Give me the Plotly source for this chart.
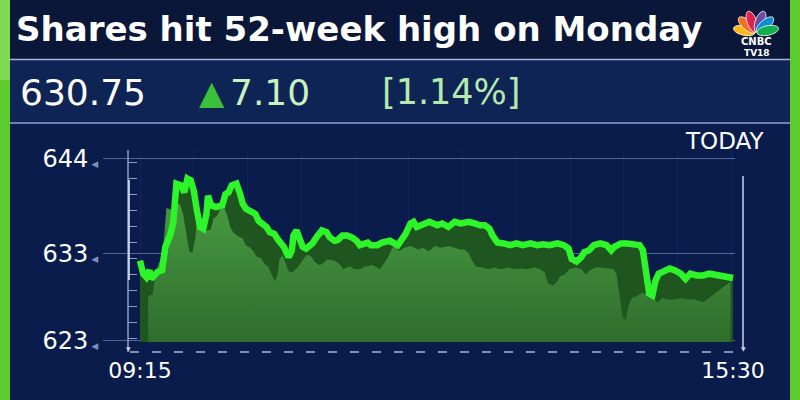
import math
import plotly.graph_objects as go

# ---------------- data ----------------
minutes = [0, 2, 4, 6, 7, 11, 14, 16, 19, 21, 23, 26, 28, 30, 32, 34, 36, 38, 40, 42,
           43, 45, 48, 52, 54, 56, 58, 61, 63, 65, 67, 70, 73, 75, 78, 80, 82, 85, 87, 90,
           91, 94, 96, 97, 99, 101, 103, 105, 109, 112, 115, 118, 120, 123, 125, 128, 131, 134, 137, 139,
           142, 144, 146, 150, 153, 158, 163, 168, 171, 173, 175, 179, 183, 188, 191, 195, 199, 203, 208, 212,
           215, 218, 221, 223, 226, 230, 234, 238, 242, 247, 251, 255, 259, 264, 268, 271, 273, 276, 279, 281,
           284, 287, 291, 295, 298, 300, 304, 308, 312, 316, 318, 320, 322, 324, 326, 328, 331, 335, 338, 342,
           345, 348, 352, 356, 360, 365, 369, 375]
prices = [632.2, 630.7, 630.3, 631.1, 630.1, 630.9, 631.1, 633.8, 635.1, 636.6, 641.1, 640.9, 640.1, 641.7, 641.5, 640.3, 638.0, 636.1, 635.9, 637.6,
          639.7, 638.6, 638.4, 638.6, 639.9, 640.1, 640.9, 641.1, 640.1, 638.8, 638.2, 637.8, 637.6, 636.8, 636.5, 636.1, 635.5, 635.3, 634.7, 634.2,
          633.8, 632.6, 633.4, 635.1, 635.7, 634.7, 633.8, 633.6, 634.2, 635.0, 635.7, 635.5, 634.9, 634.5, 634.6, 635.1, 635.1, 634.9, 634.5, 634.0,
          634.3, 634.3, 634.0, 634.0, 634.3, 634.5, 634.0, 635.3, 636.5, 636.7, 636.1, 636.5, 636.7, 636.3, 636.5, 636.1, 636.7, 636.5, 636.7, 636.5,
          636.3, 636.3, 635.9, 635.1, 634.3, 634.2, 634.0, 634.2, 634.0, 634.2, 634.0, 634.1, 634.0, 634.2, 634.0, 633.6, 632.4, 632.1, 632.6, 633.2,
          633.4, 634.0, 634.2, 634.0, 633.4, 633.8, 634.2, 634.2, 634.1, 634.0, 633.4, 631.1, 628.4, 628.2, 629.9, 630.7, 630.9, 631.3, 631.1, 630.7,
          630.1, 630.7, 630.5, 630.5, 630.7, 630.5, 630.5, 630.2]

y_ticks = [623, 633, 644]
x_ticks = [0, 375]
x_tick_labels = ["09:15", "15:30"]

title_text = "Shares hit 52-week high on Monday"
last_price = "630.75"
change_abs = "7.10"
change_pct = "[1.14%]"

# ---------------- layout geometry / style ----------------
W, H = 800, 400
L, R, T, B = 128, 65, 150, 58
PW, PH = W - L - R, H - T - B

def px(x):
    return (x - L) / PW

def py(y):
    return (H - B - y) / PH

BG = "#0a1c4c"
DEPTH = 2.8          # vertical depth of 3-D ribbon (price units)

# front face of the 3-D ribbon (derived from the data: shifted down/left)
fx, fy = [], []
for t, v in zip(minutes, prices):
    xf = t - (5.5 + 0.035 * t)
    if xf >= 3:
        fx.append(xf)
        fy.append(v - DEPTH)
fx.append(minutes[-1] - 1.5)
fy.append(prices[-1] - 0.4)

fig = go.Figure()
# dark top surface of the ribbon
fig.add_trace(go.Scatter(x=minutes, y=prices, mode="lines", line=dict(width=0, color="#1f551f"),
                         fill="tozeroy", fillcolor="#1f551f", hoverinfo="skip", showlegend=False))
# front face
fig.add_trace(go.Scatter(x=fx, y=fy, mode="lines", line=dict(width=0, color="#3c8a38"),
                         fill="tozeroy",
                         fillgradient=dict(type="vertical", start=623, stop=638,
                                           colorscale=[[0, "#2f6d2d"], [1, "#46983f"]]),
                         hoverinfo="skip", showlegend=False))
# bright edge line
fig.add_trace(go.Scatter(x=minutes, y=prices, mode="lines", line=dict(width=6.5, color="#2ef52a"),
                         hoverinfo="skip", showlegend=False))

shapes = []
# title band, price band
shapes.append(dict(type="rect", xref="paper", yref="paper", x0=px(0), x1=px(800), y0=py(0), y1=py(59),
                   fillcolor="#0b1739", line_width=0, layer="below"))
shapes.append(dict(type="rect", xref="paper", yref="paper", x0=px(0), x1=px(800), y0=py(60), y1=py(123),
                   fillcolor="#0e2455", line_width=0, layer="below"))
shapes.append(dict(type="line", xref="paper", yref="paper", x0=px(10), x1=px(790), y0=py(59.5), y1=py(59.5),
                   line=dict(color="#a3b4d8", width=1.5), layer="below"))
shapes.append(dict(type="line", xref="paper", yref="paper", x0=px(10), x1=px(790), y0=py(123), y1=py(123),
                   line=dict(color="#8fa2cc", width=1.5), layer="below"))
# green side bars
shapes.append(dict(type="rect", xref="paper", yref="paper", x0=px(0), x1=px(10), y0=py(0), y1=py(400),
                   fillcolor="#5ccb2c", line_width=0, layer="above"))
shapes.append(dict(type="rect", xref="paper", yref="paper", x0=px(0), x1=px(10), y0=py(0), y1=py(80),
                   fillcolor="#7fdc52", line_width=0, layer="above"))
shapes.append(dict(type="rect", xref="paper", yref="paper", x0=px(790), x1=px(800), y0=py(0), y1=py(400),
                   fillcolor="#5ccb2c", line_width=0, layer="above"))
# axis decorations
shapes.append(dict(type="line", xref="paper", yref="paper", x0=px(128), x1=px(128), y0=py(150), y1=py(352),
                   line=dict(color="#8f9dc2", width=1.5), layer="above"))
shapes.append(dict(type="line", xref="paper", yref="paper", x0=px(129), x1=px(129), y0=py(180), y1=py(280),
                   line=dict(color="#e6ecff", width=1.5), layer="above"))
shapes.append(dict(type="line", xref="paper", yref="paper", x0=px(743), x1=px(743), y0=py(176), y1=py(349),
                   line=dict(color="#c9d2ea", width=1.5), layer="above"))
shapes.append(dict(type="line", xref="paper", yref="paper", x0=px(130), x1=px(743), y0=py(352), y1=py(352),
                   line=dict(color="#7f8fb6", width=2, dash="9px,13px"), layer="above"))

# CNBC peacock
feather_angles = [168, 138, 110, 70, 42, 12]
feather_colors = ["#fdb913", "#f37021", "#e0234e", "#6c4ca1", "#0b8fd6", "#10b04b"]
cx0, cy0 = 756, 33
for ang, col in zip(feather_angles, feather_colors):
    a = math.radians(ang)
    ccx = cx0 + 12 * math.cos(a)
    ccy = cy0 - 12 * math.sin(a)
    pts = []
    for k in range(24):
        th = 2 * math.pi * k / 24
        lx, ly = 11 * math.cos(th), 4.8 * math.sin(th)
        X = ccx + lx * math.cos(a) - ly * math.sin(a)
        Y = ccy - (lx * math.sin(a) + ly * math.cos(a))
        pts.append(f"{px(X):.5f},{py(Y):.5f}")
    shapes.append(dict(type="path", xref="paper", yref="paper", path="M" + " L".join(pts) + " Z",
                       fillcolor=col, line=dict(color="#ffffff", width=0.8), layer="above"))

annotations = []
def txt(s, x, y, size, color="#ffffff", weight="normal", family="DejaVu Sans", xanchor="left"):
    annotations.append(dict(text=s, xref="paper", yref="paper", x=px(x), y=py(y), showarrow=False,
                            xanchor=xanchor, yanchor="middle",
                            font=dict(size=size, color=color, family=family, weight=weight)))

txt(title_text, 14, 29, 34, weight="bold")
txt(last_price, 18, 92, 36)
txt("▲", 197, 92, 33, color="#3cbf3a")
txt(change_abs, 228, 92, 36, color="#c8f3c0")
txt(change_pct, 380, 92, 35, color="#b5eaad")
txt("TODAY", 724, 141, 23, xanchor="center")
txt("CNBC", 756, 41.5, 10, weight="bold", xanchor="center")
txt("TV18", 757, 52.5, 9, weight="bold", xanchor="center")
txt("▼", 128, 348, 6, color="#c9d2ea", xanchor="center")
txt("▼", 743, 348, 6, color="#c9d2ea", xanchor="center")

y_ticktext = [f"{v}<span style='font-size:9px;color:#7e8fb8'> ◀</span>" for v in y_ticks]

fig.update_layout(
    width=W, height=H,
    margin=dict(l=L, r=R, t=T, b=B, pad=0),
    paper_bgcolor=BG, plot_bgcolor=BG,
    showlegend=False,
    shapes=shapes, annotations=annotations,
    xaxis=dict(range=[-7.59, 376.26], tickvals=x_ticks, ticktext=x_tick_labels,
               showgrid=False, zeroline=False, showline=False, ticks="",
               ticklabelstandoff=13,
               tickfont=dict(family="DejaVu Sans", size=22, color="#ffffff"),
               minor=dict(dtick=34, tick0=0, showgrid=True, gridcolor="#10265c", gridwidth=1)),
    yaxis=dict(range=[622.8, 645.0], tickvals=y_ticks, ticktext=y_ticktext,
               showgrid=True, gridcolor="#53649a", gridwidth=1, zeroline=False,
               showline=False, ticks="outside", ticklen=24, tickcolor="#53649a", tickwidth=1,
               tickfont=dict(family="DejaVu Sans", size=24, color="#ffffff"),
               minor=dict(ticks="inside", ticklen=9, tickcolor="#8f9dc2", tickwidth=1,
                          dtick=1.85, tick0=643.5, showgrid=False)),
)

fig.write_html("out.html", config={"displayModeBar": False},
               post_script="document.body.style.margin='0';document.body.style.padding='0';"
                           "document.body.style.overflow='hidden';")
